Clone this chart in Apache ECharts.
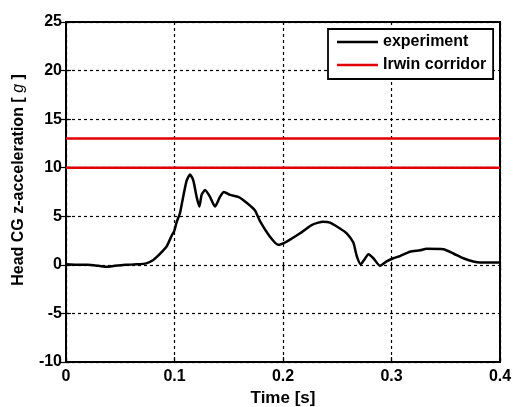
<!DOCTYPE html>
<html>
<head>
<meta charset="utf-8">
<script src="https://cdn.jsdelivr.net/npm/echarts@6/dist/echarts.min.js"></script>
<style>html,body{margin:0;padding:0;background:#fff;}#c{width:514px;height:407px;}</style>
</head>
<body>
<div id="c"></div>
<script>
// Data
var timeS = [0, 0.01, 0.02, 0.03, 0.0375, 0.045, 0.055, 0.065, 0.074, 0.0805, 0.0835, 0.0897, 0.0928, 0.0974, 0.0998, 0.102, 0.105, 0.1066, 0.111, 0.1143, 0.1173, 0.1204, 0.1229, 0.125, 0.1281, 0.1327, 0.1373, 0.1419, 0.1456, 0.1512, 0.1588, 0.1665, 0.1742, 0.1788, 0.188, 0.1957, 0.2034, 0.2157, 0.2264, 0.2372, 0.2433, 0.2525, 0.2587, 0.2648, 0.268, 0.2716, 0.2747, 0.2787, 0.2833, 0.2894, 0.2955, 0.3017, 0.3078, 0.317, 0.3263, 0.3324, 0.3478, 0.357, 0.3662, 0.3754, 0.3816, 0.39, 0.4];
var experimentG = [0.05, 0, 0.0, -0.1, -0.2, -0.1, 0, 0.05, 0.15, 0.5, 0.8, 1.5, 1.9, 3.0, 3.5, 4.4, 5.3, 6.2, 8.6, 9.3, 8.7, 7.0, 6.0, 7.2, 7.7, 7.0, 6.0, 7.0, 7.5, 7.2, 7.0, 6.4, 5.6, 4.5, 2.9, 2.06, 2.4, 3.25, 4.1, 4.45, 4.35, 3.75, 3.25, 2.3, 0.9, 0.06, 0.5, 1.1, 0.68, -0.1, 0.35, 0.68, 0.9, 1.35, 1.5, 1.65, 1.6, 1.17, 0.68, 0.35, 0.24, 0.24, 0.24];
var irwinUpper = 13;
var irwinLower = 10;
var xRange = [0, 0.4];
var yRange = [-10, 25];
var legendNames = ['experiment', 'Irwin corridor'];

var FONT = '"Liberation Sans", Arial, Helvetica, sans-serif';
var expData = timeS.map(function (t, i) { return [t, experimentG[i]]; });
var upperData = [[xRange[0], irwinUpper], [xRange[1], irwinUpper]];
var lowerData = [[xRange[0], irwinLower], [xRange[1], irwinLower]];

var chart = echarts.init(document.getElementById('c'), null, {renderer: 'canvas'});
var tickStyle = {show: true, inside: true, length: 5, lineStyle: {color: '#000', width: 1.2}};
chart.setOption({
  animation: false,
  backgroundColor: '#fff',
  grid: {left: 66, top: 22, right: 14, bottom: 45, outerBoundsMode: 'none', containLabel: false,
    show: true, borderColor: '#000', borderWidth: 2, backgroundColor: 'transparent'},
  legend: {
    orient: 'vertical', left: 328, top: 29,
    data: legendNames,
    icon: 'rect',
    backgroundColor: '#fff', borderColor: '#000', borderWidth: 1.8,
    padding: [5, 7, 6, 9], itemGap: 7, itemWidth: 41, itemHeight: 2.5,
    textStyle: {fontFamily: FONT, fontWeight: 'bold', fontSize: 16, lineHeight: 16, color: '#000'}
  },
  xAxis: [{
    type: 'value', min: xRange[0], max: xRange[1], interval: 0.1,
    name: 'Time [s]', nameLocation: 'middle', nameGap: 25,
    nameTextStyle: {fontFamily: FONT, fontWeight: 'bold', fontSize: 17, color: '#000'},
    axisLine: {show: true, onZero: false, lineStyle: {color: '#000', width: 2}},
    axisTick: tickStyle,
    axisLabel: {fontFamily: FONT, fontWeight: 'bold', fontSize: 16, color: '#000', margin: 7},
    splitLine: {show: true, lineStyle: {color: '#000', type: [3, 3], width: 1.2}}
  }, {
    type: 'value', position: 'top', min: xRange[0], max: xRange[1], interval: 0.1,
    axisLine: {show: false}, axisTick: tickStyle, axisLabel: {show: false}, splitLine: {show: false}
  }],
  yAxis: [{
    type: 'value', min: yRange[0], max: yRange[1], interval: 5,
    name: 'Head CG z-acceleration [ {i|g} ]', nameLocation: 'middle', nameGap: 39,
    nameTextStyle: {fontFamily: FONT, fontWeight: 'bold', fontSize: 16, color: '#000', padding: [0, 0, 0, 24],
      rich: {i: {fontFamily: FONT, fontStyle: 'italic', fontWeight: 'normal', fontSize: 16, color: '#000'}}},
    axisLine: {show: true, onZero: false, lineStyle: {color: '#000', width: 2}},
    axisTick: tickStyle,
    axisLabel: {fontFamily: FONT, fontWeight: 'bold', fontSize: 16, color: '#000', margin: 4},
    splitLine: {show: true, lineStyle: {color: '#000', type: [3, 3], width: 1.2}}
  }, {
    type: 'value', position: 'right', min: yRange[0], max: yRange[1], interval: 5,
    axisLine: {show: false}, axisTick: tickStyle, axisLabel: {show: false}, splitLine: {show: false}
  }],
  series: [{
    name: legendNames[0], type: 'line', data: expData, showSymbol: false, symbol: 'none',
    smooth: 0.2, lineStyle: {color: '#000', width: 2.5}, itemStyle: {color: '#000'}, z: 5
  }, {
    name: legendNames[1], type: 'line', data: upperData, showSymbol: false, symbol: 'none',
    lineStyle: {color: '#e00000', width: 2.5}, itemStyle: {color: '#e00000'}
  }, {
    name: legendNames[1], type: 'line', data: lowerData, showSymbol: false, symbol: 'none',
    lineStyle: {color: '#e00000', width: 2.5}, itemStyle: {color: '#e00000'}
  }]
});
</script>
</body>
</html>
